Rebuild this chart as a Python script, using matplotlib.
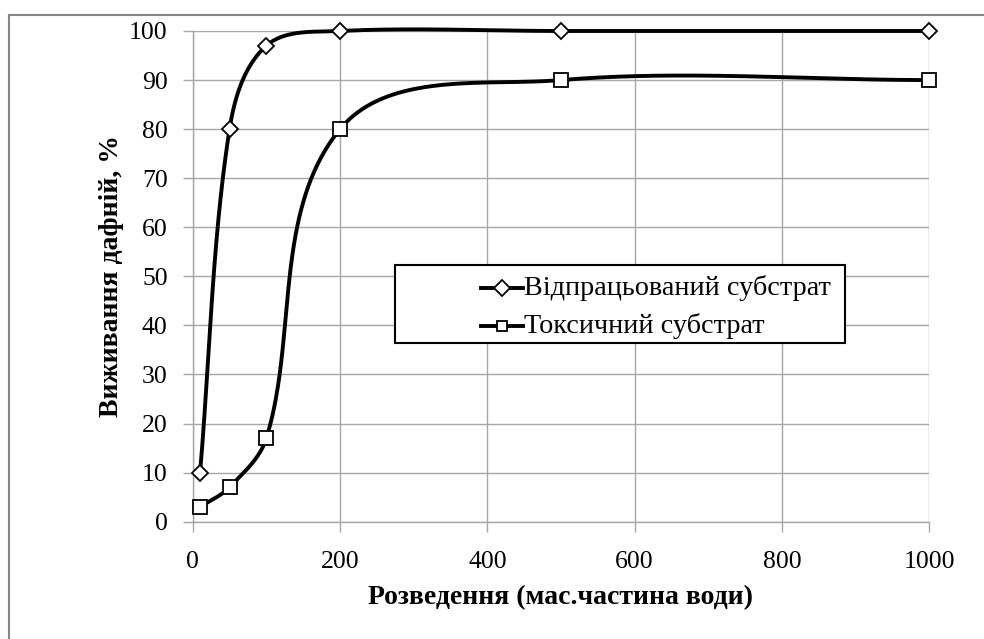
import numpy as np
import matplotlib
matplotlib.use("Agg")
import matplotlib.pyplot as plt
from matplotlib.lines import Line2D
from matplotlib.patches import Rectangle

# ---- data ----
x_vals = [10, 50, 100, 200, 500, 1000]
y_spent = [10, 80, 97, 100, 100, 100]      # Відпрацьований субстрат
y_toxic = [3, 7, 17, 80, 90, 90]           # Токсичний субстрат
label_spent = "Відпрацьований субстрат"
label_toxic = "Токсичний субстрат"
x_ticks = [0, 200, 400, 600, 800, 1000]
y_ticks = [0, 10, 20, 30, 40, 50, 60, 70, 80, 90, 100]
x_label = "Розведення (мас.частина води)"
y_label = "Виживання дафній, %"

plt.rcParams['font.family'] = ['Liberation Serif', 'DejaVu Serif']

W, H = 984, 639
def fx(px):
    return px / W
def fy(py):
    return 1 - py / H

fig = plt.figure(figsize=(W / 100, H / 100), dpi=100)
x0, x1, y0, y1 = 192.7, 929.3, 521.7, 31.0
ax = fig.add_axes([fx(x0), fy(y0), (x1 - x0) / W, (y0 - y1) / H])
ax.set_xlim(0, 1000)
ax.set_ylim(0, 100)

# smooth curve like Excel (Bezier in screen space)
sx = (x1 - x0) / 1000.0
sy = (y0 - y1) / 100.0

def smooth(xs, ys, n=80):
    P = np.column_stack([np.array(xs, float) * sx, np.array(ys, float) * sy])
    m = len(P)
    T = []
    for i in range(m):
        a = P[i - 1] if i > 0 else P[i]
        b = P[i + 1] if i + 1 < m else P[i]
        d = b - a
        T.append(d / np.linalg.norm(d))
    out = [P[0]]
    for i in range(m - 1):
        p1, p2 = P[i], P[i + 1]
        L = np.linalg.norm(p2 - p1) / 3.0
        c1 = p1 + T[i] * L
        c2 = p2 - T[i + 1] * L
        t = np.linspace(0, 1, n)[1:, None]
        seg = ((1 - t) ** 3) * p1 + 3 * ((1 - t) ** 2) * t * c1 + 3 * (1 - t) * t ** 2 * c2 + t ** 3 * p2
        out.extend(seg)
    out = np.array(out)
    return out[:, 0] / sx, out[:, 1] / sy

lw = 2.8
d_ms, s_ms, mew = 7.8, 10.5, 1.3
for ys in (y_spent, y_toxic):
    cx, cy = smooth(x_vals, ys)
    ax.plot(cx, cy, color='black', lw=lw, solid_capstyle='round', zorder=3, clip_on=False)

ax.plot(x_vals, y_spent, linestyle='none', marker='D', ms=d_ms, mfc='white', mec='black', mew=mew, zorder=4, clip_on=False)
ax.plot(x_vals, y_toxic, linestyle='none', marker='s', ms=s_ms, mfc='white', mec='black', mew=mew, zorder=4, clip_on=False)

grid_c = '#a6a6a6'
ax.set_xticks(x_ticks)
ax.set_yticks(y_ticks)
ax.grid(True, color=grid_c, lw=1.0)
ax.set_axisbelow(True)
for s in ('top', 'right'):
    ax.spines[s].set_visible(False)
for s in ('left', 'bottom'):
    ax.spines[s].set_color(grid_c)
    ax.spines[s].set_linewidth(1.0)
ax.tick_params(axis='both', direction='out', length=7, width=1.0, color=grid_c, labelsize=18.5)
ax.tick_params(axis='y', pad=11)
ax.tick_params(axis='x', pad=14)

ax.set_xlabel(x_label, fontsize=20, fontweight='bold', labelpad=9)
ax.set_ylabel(y_label, fontsize=20, fontweight='bold', labelpad=4)

# legend (drawn manually to match the Excel layout)
fig.add_artist(Rectangle((fx(395), fy(343)), (845 - 395) / W, (343 - 265) / H,
                         transform=fig.transFigure, facecolor='white', edgecolor='black', lw=1.5, zorder=5))
for yy, mk, ms, lab in ((288, 'D', d_ms, label_spent), (326, 's', s_ms * 0.75, label_toxic)):
    fig.add_artist(Line2D([fx(481), fx(523)], [fy(yy), fy(yy)], color='black', lw=lw,
                          transform=fig.transFigure, zorder=6))
    fig.add_artist(Line2D([fx(502)], [fy(yy)], marker=mk, ms=ms, mfc='white', mec='black', mew=mew,
                          linestyle='none', transform=fig.transFigure, zorder=7))
    fig.text(fx(524), fy(yy), lab, fontsize=20.3, va='center', ha='left', zorder=8)

# outer chart border
border_c = '#868686'
fig.add_artist(Line2D([fx(9), fx(9)], [fy(15), 0], color=border_c, lw=1.5, transform=fig.transFigure))
fig.add_artist(Line2D([fx(9), fx(983)], [fy(15), fy(15)], color=border_c, lw=1.5, transform=fig.transFigure))

fig.savefig('out.png', dpi=100)
